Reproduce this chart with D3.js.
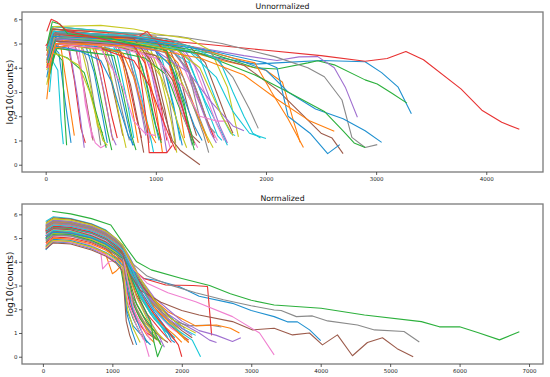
<!DOCTYPE html>
<html>
<head>
<meta charset="utf-8">
<script src="https://cdn.jsdelivr.net/npm/d3@7"></script>
<style>
  body { margin: 0; background: #fff; }
  svg { display: block; font-family: "DejaVu Sans", sans-serif; }
</style>
</head>
<body>
<script>
'use strict';

const W = 550, H = 377;
const colors = ['#1f90d0', '#ff7f0e', '#2cb03c', '#e83232', '#a070d0',
                '#9c5b4b', '#f080d0', '#8a8a8a', '#c8c822', '#17c8d8'];

// each line: flat x,y pairs (x = position, y = log10(counts))
const unnormDense = [
  [10,3.6, 60,4.9, 120,4.6, 180,2.5, 230,0.9],
  [15,4.0, 70,5.1, 140,4.8, 200,3.0, 260,1.2],
  [20,3.4, 80,4.7, 150,4.3, 170,2.2, 190,0.8],
  [10,4.2, 70,5.3, 200,5.0, 260,3.5, 320,1.5, 360,0.9],
  [25,3.8, 90,4.9, 220,4.7, 290,2.8, 350,0.7],
  [15,4.4, 60,5.4, 250,5.2, 320,3.9, 400,1.8, 430,1.0],
  [30,3.9, 90,5.0, 280,4.8, 350,3.0, 420,1.1],
  [20,4.6, 70,5.5, 300,5.3, 380,4.2, 460,2.0, 500,0.8],
  [10,4.1, 60,5.2, 320,4.9, 400,3.4, 470,1.6, 520,1.3],
  [35,3.0, 60,4.3, 110,3.9, 140,1.8, 160,0.85],
  [20,4.3, 80,5.3, 350,5.1, 440,3.8, 520,1.9, 560,0.9],
  [15,4.8, 60,5.6, 380,5.4, 470,4.3, 560,2.2, 610,1.0],
  [25,4.0, 90,5.1, 400,4.8, 480,3.2, 560,1.4, 600,0.6],
  [10,4.5, 60,5.4, 420,5.2, 510,4.0, 600,2.0, 650,1.1],
  [30,3.7, 100,4.9, 450,4.6, 530,3.0, 600,1.2, 640,0.8],
  [20,4.7, 70,5.5, 470,5.3, 560,4.2, 650,2.3, 700,1.2],
  [15,4.2, 80,5.2, 300,4.9, 360,2.5, 400,1.6, 450,0.9, 500,0.7, 540,0.8],
  [25,4.4, 70,5.4, 520,5.1, 610,4.0, 700,2.1, 760,1.0],
  [10,3.9, 90,5.0, 540,4.7, 620,3.1, 700,1.3, 730,0.7],
  [20,4.9, 60,5.7, 560,5.5, 650,4.5, 740,2.6, 800,1.1],
  [30,4.1, 90,5.1, 580,4.8, 660,3.4, 750,1.6, 790,0.8],
  [15,4.6, 70,5.5, 600,5.2, 700,4.2, 790,2.2, 840,0.9],
  [25,3.6, 100,4.8, 620,4.5, 700,3.0, 780,1.2, 820,0.6],
  [10,4.3, 60,5.3, 640,5.1, 730,3.9, 820,2.0, 870,1.1],
  [20,4.7, 80,5.5, 660,5.3, 760,4.4, 850,2.6, 910,1.2],
  [35,4.0, 100,5.0, 680,4.7, 770,3.3, 850,1.5, 890,0.5],
  [15,4.5, 70,5.4, 700,5.2, 800,4.1, 890,2.2, 950,1.0],
  [25,4.2, 90,5.2, 720,4.9, 810,3.6, 900,1.7, 940,0.9],
  [10,4.8, 60,5.6, 740,5.4, 840,4.4, 940,2.5, 1000,1.1],
  [30,3.9, 100,5.0, 760,4.7, 850,3.2, 940,1.4, 980,0.5],
  [20,4.4, 70,5.3, 780,5.1, 880,4.0, 970,2.1, 1030,1.0],
  [15,4.6, 80,5.5, 800,5.3, 900,4.3, 1000,2.4, 1060,0.5],
  [25,4.1, 90,5.1, 820,4.8, 910,3.5, 1000,1.6, 1050,0.9],
  [10,4.7, 60,5.5, 840,5.3, 940,4.4, 1040,2.6, 1100,1.0],
  [20,4.3, 80,5.2, 860,5.0, 960,3.8, 1050,1.9, 1100,0.5],
  [30,4.5, 90,5.4, 880,5.1, 980,4.2, 1080,2.3, 1140,0.9],
  [15,4.0, 70,5.1, 900,4.8, 990,3.4, 1080,1.5, 1130,0.7],
  [25,4.8, 60,5.6, 920,5.4, 1020,4.5, 1120,2.7, 1180,0.9],
  [10,4.2, 90,5.2, 940,4.9, 1040,3.7, 1140,1.8, 1190,0.5],
  [20,4.6, 70,5.4, 960,5.2, 1060,4.3, 1160,2.5, 1220,1.0],
  [35,4.3, 100,5.2, 980,4.9, 1080,3.9, 1180,2.0, 1240,0.8],
  [15,4.9, 60,5.7, 1000,5.3, 1100,4.5, 1200,2.8, 1260,1.1],
  [10,4.7, 70,5.5, 1050,5.1, 1160,4.2, 1260,2.5, 1320,1.0],
  [25,4.4, 80,5.3, 820,5.0, 880,3.0, 920,1.6, 940,0.5, 1100,0.5, 1150,0.8],
  [20,4.1, 90,5.1, 1080,4.8, 1180,3.6, 1280,1.7, 1330,0.8],
  [30,4.5, 70,5.4, 1100,5.0, 1200,4.0, 1300,2.2, 1370,1.2],
  [20,4.5, 80,5.4, 600,5.3, 1000,5.0, 1200,4.6, 1350,3.0, 1500,1.5, 1560,1.0],
  [25,4.3, 80,5.2, 1200,4.9, 1300,3.8, 1400,1.9, 1460,1.2],
  [15,4.2, 70,5.2, 500,5.0, 900,4.7, 1150,4.2, 1300,2.8, 1450,1.3, 1520,0.7],
  [30,4.4, 90,5.3, 700,5.1, 1100,4.8, 1300,4.2, 1450,2.6, 1600,1.3, 1650,0.8],
  [20,4.3, 80,5.2, 600,5.0, 1000,4.7, 1150,4.0, 1250,2.8, 1350,1.6, 1420,1.0],
  [15,4.6, 70,5.4, 700,5.2, 1050,4.9, 1200,4.2, 1300,3.0, 1400,1.8, 1480,0.9],
  [25,4.0, 90,5.0, 500,4.8, 900,4.4, 1100,3.7, 1200,2.5, 1300,1.4, 1350,0.6],
  [10,4.8, 60,5.6, 700,5.4, 1100,5.1, 1250,4.5, 1350,3.3, 1450,2.0, 1530,1.1],
  [30,4.4, 90,5.3, 800,5.1, 1150,4.7, 1300,3.8, 1400,2.5, 1500,1.3, 1550,0.9],
  [20,4.1, 80,5.1, 600,4.9, 1000,4.5, 1150,3.5, 1250,2.2, 1330,1.2, 1400,0.9],
  [15,4.7, 70,5.5, 900,5.2, 1200,4.9, 1350,4.1, 1450,2.9, 1550,1.7, 1620,1.0],
  [25,4.5, 80,5.3, 800,5.0, 1100,4.6, 1250,3.6, 1350,2.3, 1430,1.3, 1480,0.5],
  [10,4.3, 70,5.2, 600,5.0, 900,4.6, 1050,3.6, 1150,2.4, 1230,1.3, 1280,0.7],
  [20,4.9, 60,5.7, 800,5.4, 1200,5.1, 1400,4.4, 1500,3.2, 1600,2.0, 1680,1.3, 1720,1.2],
  [30,3.8, 90,4.9, 300,4.7, 500,4.3, 600,3.4, 680,2.2, 750,1.2, 800,0.8],
  [15,4.2, 70,5.2, 400,5.0, 700,4.6, 800,3.6, 880,2.3, 950,1.3, 1000,0.9],
  [25,3.5, 80,4.6, 200,4.4, 350,3.8, 430,2.6, 500,1.5, 550,0.7],
  [10,4.0, 60,5.0, 500,4.8, 800,4.3, 950,3.2, 1050,2.0, 1120,1.2, 1180,0.6],
  [20,4.5, 80,5.4, 900,5.2, 1250,4.8, 1400,3.8, 1500,2.6, 1580,1.6, 1650,0.9],
  [30,4.6, 90,5.4, 1000,5.2, 1300,4.9, 1450,4.2, 1550,3.0, 1650,1.8, 1700,1.3],
  [15,4.2, 70,5.1, 700,4.9, 1000,4.4, 1150,3.3, 1250,2.0, 1320,1.2, 1380,0.7],
  [25,4.4, 80,5.3, 900,5.1, 1150,4.7, 1300,3.9, 1400,2.7, 1480,1.6, 1540,1.3],
  [10,3.3, 60,4.6, 150,4.5, 300,4.1, 400,3.0, 470,1.8, 520,1.0, 560,0.8],
  [20,4.7, 70,5.5, 800,5.3, 1150,5.0, 1300,4.3, 1400,3.1, 1500,1.9, 1560,1.2, 1600,1.0]
];

const unnormLong = [
  [20,4.2, 100,5.3, 600,5.1, 1100,4.8, 1600,4.4, 1900,4.15, 2100,4.2, 2500,4.3, 2900,4.25, 3050,3.8, 3200,3.2, 3320,2.1],
  [10,2.7, 60,4.8, 600,5.2, 1200,4.8, 1600,4.3, 2000,3.9, 2150,3.4, 2250,1.8, 2310,0.92],
  [30,4.6, 100,5.4, 500,5.3, 1000,5.0, 1500,4.6, 1900,4.0, 2100,3.95, 2380,4.2, 2470,4.29, 2620,4.12, 2900,3.5, 3010,3.33, 3140,2.96, 3280,2.54],
  [0,4.9, 100,5.5, 500,5.35, 1000,5.15, 1500,4.95, 2000,4.72, 2500,4.5, 2900,4.27, 3100,4.38, 3270,4.67, 3430,4.33, 3770,3.13, 3960,2.25, 4140,1.75, 4300,1.46],
  [20,4.4, 100,5.2, 700,5.2, 1300,4.9, 1800,4.5, 2100,4.3, 2300,4.45, 2470,4.46, 2620,4.0, 2720,3.2, 2830,1.96],
  [20,4.4, 80,5.1, 900,4.9, 1400,4.6, 1800,4.1, 2100,3.1, 2300,2.2, 2500,1.3, 2600,1.1, 2700,0.46],
  [25,4.0, 90,5.0, 600,4.9, 1000,4.4, 1250,3.2, 1400,2.0, 1550,1.8, 1650,1.8],
  [30,4.3, 100,5.3, 600,5.4, 1000,5.35, 1200,5.3, 1600,5.0, 2080,4.46, 2380,4.0, 2530,3.63, 2690,2.67, 2780,1.13, 2900,0.71, 3010,0.83],
  [15,4.7, 70,5.7, 500,5.75, 800,5.6, 1000,5.4, 1300,5.2, 1500,4.7, 1650,3.2, 1750,1.15],
  [25,4.3, 90,5.2, 900,5.0, 1300,4.7, 1550,3.6, 1700,2.2, 1850,1.3, 2000,1.08],
  [20,4.5, 70,5.4, 700,5.3, 1300,4.9, 1700,4.4, 2000,3.9, 2200,3.0, 2450,2.3, 2700,1.9, 2900,1.4, 3050,0.92],
  [20,4.1, 80,5.3, 700,5.2, 1300,4.9, 1700,4.4, 1900,4.2, 2050,3.0, 2200,1.9, 2340,0.71],
  [25,4.2, 90,5.2, 800,5.0, 1400,4.6, 1900,3.7, 2200,3.0, 2530,2.2, 2700,1.4, 2800,0.9, 2900,0.71],
  [20,4.5, 80,5.4, 500,5.2, 850,5.3, 920,5.5, 1000,5.1, 1100,4.6, 1200,3.0, 1300,1.4, 1350,0.9],
  [25,4.4, 80,5.2, 600,5.0, 1000,4.7, 1300,3.8, 1500,2.6, 1700,1.6, 1800,1.4],
  [15,4.8, 60,5.6, 800,5.2, 950,4.3, 1050,2.5, 1150,1.0, 1220,0.6, 1400,0.0],
  [30,4.1, 90,5.0, 500,4.8, 700,3.2, 800,1.8, 900,1.3, 1000,1.2],
  [20,4.6, 80,5.4, 800,5.3, 1100,5.2, 1500,4.6, 1700,3.6, 1850,2.3, 1930,1.5],
  [20,4.5, 80,5.3, 700,5.1, 1200,4.7, 1400,4.0, 1500,3.0, 1600,2.0, 1700,1.2],
  [15,4.8, 70,5.5, 800,5.3, 1300,4.9, 1580,4.3, 1700,3.0, 1800,2.0, 1880,1.3, 1950,1.1],
  [15,4.3, 70,5.3, 900,5.1, 1500,4.7, 2000,4.2, 2100,4.0, 2200,2.0, 2400,1.3, 2560,0.46, 2670,0.83],
  [30,4.0, 90,5.0, 800,4.9, 1400,4.4, 1800,3.7, 2100,2.7, 2400,1.8, 2620,1.38],
  [15,5.0, 60,5.9, 130,5.8, 200,5.4, 600,5.2, 1100,4.7, 1250,2.5, 1350,0.8],
  [10,5.5, 50,6.0, 100,5.9, 200,5.5, 400,5.3, 800,4.9, 900,4.2, 1000,2.0, 1050,1.0]
];

const normDense = [
  [40,4.5, 150,4.85, 400,4.8, 700,4.55, 900,4.3, 1050,4.0, 1150,3.7, 1200,2.0, 1300,1.3, 1450,0.8, 1550,0.5],
  [45,4.6, 150,4.9, 400,4.85, 700,4.6, 900,4.35, 1000,3.5, 1050,3.6, 1150,3.9, 1220,2.6, 1350,1.6, 1500,0.9, 1600,0.6],
  [45,4.85, 150,5.15, 400,5.1, 700,4.9, 900,4.6, 1000,4.3, 1100,4.1, 1200,2.4, 1300,1.6, 1400,1.0, 1500,0.6],
  [40,4.8, 150,5.05, 400,5.0, 700,4.8, 900,4.55, 1050,4.3, 1150,4.0, 1250,2.2, 1350,1.5, 1500,1.0, 1650,0.7],
  [50,4.9, 150,5.1, 400,5.1, 700,4.85, 900,4.6, 1050,4.35, 1150,4.1, 1230,3.0, 1300,2.2, 1450,1.4, 1600,0.9, 1700,0.6],
  [40,5.0, 150,5.2, 400,5.15, 700,4.95, 900,4.7, 1050,4.4, 1150,4.2, 1250,3.2, 1350,2.2, 1500,1.4, 1700,0.8, 1800,0.6],
  [40,4.7, 150,5.0, 400,4.95, 700,4.7, 830,4.5, 860,3.7, 950,4.0, 1100,4.1, 1200,3.0, 1300,2.0, 1450,1.2, 1550,0.7],
  [40,5.1, 150,5.3, 400,5.25, 700,5.05, 900,4.8, 1050,4.5, 1150,4.2, 1250,3.4, 1400,2.5, 1600,1.6, 1800,1.0, 1900,0.7],
  [50,5.15, 150,5.35, 400,5.3, 700,5.1, 900,4.85, 1050,4.5, 1150,4.3, 1200,3.7, 1300,2.3, 1450,1.5, 1600,1.0, 1700,0.5],
  [40,5.2, 150,5.4, 400,5.35, 700,5.15, 900,4.9, 1050,4.6, 1150,4.35, 1250,3.6, 1350,2.8, 1550,1.9, 1750,1.2, 1900,0.8],
  [45,5.0, 150,5.25, 400,5.2, 700,5.0, 900,4.75, 1050,4.45, 1150,4.25, 1220,2.8, 1300,1.9, 1400,1.2, 1500,0.6],
  [40,5.25, 150,5.45, 400,5.4, 700,5.2, 900,4.95, 1050,4.65, 1150,4.4, 1250,3.8, 1350,3.0, 1500,2.2, 1700,1.4, 1900,0.9, 2000,0.6],
  [50,5.3, 150,5.5, 400,5.45, 700,5.25, 900,5.0, 1050,4.7, 1150,4.45, 1230,3.3, 1300,2.5, 1450,1.7, 1600,1.1, 1700,0.5],
  [40,5.35, 150,5.55, 400,5.5, 700,5.3, 900,5.05, 1050,4.75, 1150,4.5, 1250,3.9, 1400,3.0, 1600,2.1, 1800,1.4, 2000,0.9, 2100,0.7],
  [45,5.4, 150,5.6, 400,5.55, 700,5.35, 900,5.1, 1050,4.8, 1150,4.5, 1250,3.5, 1350,2.5, 1500,1.7, 1650,1.0, 1750,0.4],
  [40,5.45, 150,5.65, 400,5.6, 700,5.4, 900,5.15, 1050,4.85, 1150,4.55, 1250,4.0, 1400,3.2, 1600,2.3, 1800,1.6, 2000,1.1, 2150,0.8],
  [50,5.5, 150,5.7, 400,5.65, 700,5.45, 900,5.2, 1000,4.95, 1100,4.7, 1200,4.1, 1300,3.4, 1450,2.6, 1650,1.8, 1850,1.2, 2000,0.9],
  [40,5.55, 150,5.75, 400,5.7, 700,5.5, 900,5.25, 1000,5.0, 1100,4.75, 1200,4.2, 1350,3.3, 1550,2.4, 1750,1.7, 1950,1.1, 2100,0.6],
  [45,5.6, 150,5.8, 400,5.75, 700,5.55, 900,5.3, 1000,5.05, 1100,4.8, 1200,4.3, 1300,3.6, 1500,2.7, 1700,1.9, 1900,1.3, 2050,0.7],
  [40,5.7, 150,5.9, 400,5.82, 700,5.6, 900,5.35, 1000,5.1, 1100,4.85, 1200,4.35, 1350,3.5, 1550,2.6, 1800,1.8, 2000,1.2, 2200,0.9],
  [40,4.65, 150,4.95, 400,4.9, 700,4.65, 900,4.4, 1050,4.15, 1150,3.85, 1210,1.8, 1280,1.1, 1350,0.5],
  [50,4.75, 150,5.0, 400,4.95, 700,4.75, 900,4.5, 1050,4.2, 1150,3.95, 1250,2.8, 1350,1.9, 1500,1.1, 1650,0.7],
  [40,4.95, 150,5.2, 400,5.15, 700,4.9, 900,4.65, 1050,4.35, 1150,4.15, 1260,2.5, 1400,1.6, 1550,1.0, 1650,0.7],
  [45,5.05, 150,5.3, 400,5.2, 700,5.0, 900,4.75, 1050,4.45, 1150,4.2, 1240,3.4, 1350,2.6, 1500,1.8, 1700,1.1, 1850,0.6],
  [40,5.4, 150,5.6, 400,5.55, 700,5.35, 900,5.1, 1050,4.8, 1150,4.55, 1250,4.0, 1400,3.1, 1600,2.3, 1800,1.8, 2000,1.4, 2250,1.0, 2400,0.7, 2500,0.6],
  [40,4.55, 150,4.8, 400,4.75, 700,4.5, 900,4.25, 1050,3.95, 1150,3.6, 1200,1.5, 1250,0.9, 1300,0.5],
  [45,4.6, 150,4.88, 400,4.82, 700,4.58, 900,4.3, 1050,4.05, 1150,3.8, 1230,2.2, 1350,1.3, 1450,0.7],
  [40,4.9, 150,5.12, 400,5.08, 700,4.85, 900,4.6, 1050,4.3, 1150,4.05, 1240,2.9, 1350,2.0, 1500,1.2, 1600,0.8],
  [50,5.0, 150,5.22, 400,5.18, 700,4.95, 900,4.7, 1050,4.4, 1150,4.2, 1250,3.3, 1350,2.5, 1500,1.6, 1650,1.0, 1750,0.7],
  [40,5.1, 150,5.32, 400,5.28, 700,5.05, 900,4.8, 1050,4.5, 1150,4.3, 1250,3.6, 1400,2.6, 1550,1.8, 1750,1.1, 1850,0.9],
  [45,5.25, 150,5.48, 400,5.42, 700,5.2, 900,4.95, 1050,4.65, 1150,4.4, 1250,3.8, 1400,2.8, 1600,1.9, 1750,1.3, 1850,0.7, 1900,0.6],
  [40,5.38, 150,5.58, 400,5.52, 700,5.32, 900,5.08, 1050,4.78, 1150,4.52, 1250,3.9, 1400,3.0, 1600,2.1, 1800,1.5, 1950,1.0, 2100,0.6],
  [50,5.2, 150,5.42, 400,5.38, 700,5.18, 900,4.92, 1050,4.6, 1150,4.35, 1250,3.5, 1400,2.4, 1550,1.5, 1600,0.6, 1650,0.0, 1720,0.5],
  [40,5.3, 150,5.5, 400,5.45, 700,5.25, 900,5.0, 1050,4.7, 1150,4.45, 1250,3.7, 1400,2.7, 1600,1.8, 1800,1.1, 1950,0.5, 2000,0.0],
  [50,5.48, 150,5.68, 400,5.62, 700,5.42, 900,5.18, 1050,4.88, 1150,4.6, 1250,4.0, 1400,3.1, 1600,2.2, 1800,1.6, 2000,1.2, 2150,0.9],
  [45,5.65, 150,5.85, 400,5.8, 700,5.58, 900,5.32, 1000,5.1, 1100,4.8, 1200,4.3, 1300,3.6, 1450,2.9, 1650,2.2, 1850,1.6, 2050,1.2],
  [40,5.15, 150,5.4, 400,5.35, 700,5.15, 900,4.9, 1050,4.55, 1150,4.3, 1220,3.2, 1300,2.1, 1400,1.3, 1530,0.0],
  [50,5.45, 150,5.65, 400,5.6, 700,5.4, 900,5.15, 1050,4.85, 1150,4.6, 1250,4.0, 1350,3.2, 1500,2.5, 1700,1.9, 1900,1.5, 2100,1.3, 2400,1.34, 2570,1.25],
  [40,4.62, 150,4.9, 400,4.86, 700,4.62, 900,4.38, 1050,4.1, 1150,3.75, 1220,2.0, 1300,1.2, 1400,0.6],
  [45,5.28, 150,5.5, 400,5.44, 700,5.22, 900,4.98, 1050,4.68, 1150,4.42, 1250,3.7, 1400,2.7, 1550,1.9, 1700,1.3, 1800,0.8]
];

const normLong = [
  [40,5.0, 150,5.25, 400,5.2, 700,5.0, 900,4.75, 1050,4.45, 1150,4.2, 1300,3.6, 1450,3.3, 1630,3.22, 1960,2.96, 2250,2.55, 2730,2.25, 3000,1.95, 3330,1.69, 3520,1.47, 3665,1.47, 3840,1.13, 4000,0.68],
  [40,5.5, 150,5.7, 400,5.65, 700,5.45, 900,5.2, 1050,4.9, 1150,4.65, 1250,4.1, 1400,3.3, 1600,2.4, 1800,1.9, 2000,1.6, 2200,1.3, 2500,1.34, 2700,1.2, 2830,1.0],
  [134,6.13, 400,6.02, 700,5.82, 978,5.55, 1200,4.6, 1350,4.0, 1560,3.66, 2000,3.3, 2400,3.0, 2700,2.65, 3000,2.38, 3330,2.18, 4006,2.04, 4630,1.76, 5450,1.48, 5710,1.26, 6000,1.26, 6260,1.02, 6575,0.71, 6860,1.05],
  [40,5.3, 150,5.5, 400,5.45, 700,5.25, 900,5.0, 1050,4.7, 1150,4.4, 1300,3.7, 1450,3.3, 1770,3.02, 2160,3.0, 2370,2.96, 2430,0.9],
  [45,5.55, 150,5.75, 400,5.7, 700,5.5, 900,5.25, 1050,4.95, 1150,4.7, 1250,4.2, 1400,3.3, 1600,2.5, 1800,2.0, 2000,1.5, 2250,1.1, 2500,0.9, 2730,0.64, 2850,0.8],
  [45,5.2, 150,5.4, 400,5.35, 700,5.1, 900,4.85, 1050,4.55, 1150,4.3, 1250,3.5, 1400,2.8, 1700,2.3, 2000,1.95, 2250,1.76, 2730,1.48, 3020,1.13, 3330,1.2, 3594,0.92, 3838,1.0, 4025,0.5, 4241,0.92, 4457,0.04, 4673,0.6, 4889,0.8, 5101,0.34, 5332,0.0],
  [50,5.35, 150,5.55, 400,5.5, 700,5.3, 900,5.05, 1050,4.75, 1150,4.5, 1300,3.7, 1500,3.1, 1800,2.7, 2200,2.32, 2730,1.69, 3120,1.0, 3330,0.08],
  [40,5.5, 150,5.72, 400,5.66, 700,5.45, 900,5.2, 1050,4.9, 1150,4.65, 1300,3.9, 1500,3.4, 1800,3.05, 2200,2.7, 2600,2.4, 3000,2.15, 3330,1.97, 3430,1.95, 3650,1.69, 3880,1.72, 4100,1.51, 4530,1.34, 4775,1.13, 5200,1.06, 5420,0.62],
  [40,5.62, 150,5.82, 400,5.76, 700,5.55, 900,5.3, 1050,5.0, 1150,4.7, 1250,4.1, 1400,3.3, 1600,2.4, 1800,1.7, 2000,1.3, 2200,1.0],
  [45,5.35, 150,5.55, 400,5.5, 700,5.3, 900,5.05, 1050,4.75, 1150,4.5, 1250,3.9, 1400,3.0, 1600,2.0, 1800,1.4, 2000,1.0, 2150,0.7, 2270,0.0]
];

const unnormXTicks = [0, 1000, 2000, 3000, 4000];
const normXTicks = [0, 1000, 2000, 3000, 4000, 5000, 6000, 7000];
const yTicks = [0, 1, 2, 3, 4, 5, 6];
const tickFormat = d3.format('d');

function toPoints(flat) {
  const pts = [];
  for (let i = 0; i < flat.length; i += 2) pts.push([flat[i], flat[i + 1]]);
  return pts;
}

// matplotlib style 5% margins
function padded(ext) {
  const p = (ext[1] - ext[0]) * 0.05;
  return [ext[0] - p, ext[1] + p];
}

const svg = d3.select('body').append('svg')
    .attr('width', W)
    .attr('height', H);

function drawPanel(lines, xTicks, title, box) {
  const series = lines.map(toPoints);
  const all = series.flat();

  const x = d3.scaleLinear()
      .domain(padded(d3.extent(all, d => d[0])))
      .range([box.left, box.right]);
  const y = d3.scaleLinear()
      .domain(padded(d3.extent(all, d => d[1])))
      .range([box.bottom, box.top]);

  const line = d3.line()
      .x(d => x(d[0]))
      .y(d => y(d[1]));

  const g = svg.append('g');

  g.selectAll('path.series')
    .data(series)
    .join('path')
      .attr('class', 'series')
      .attr('d', line)
      .attr('fill', 'none')
      .attr('stroke', (d, i) => colors[i % colors.length])
      .attr('stroke-width', 1.1)
      .attr('stroke-linejoin', 'round');

  g.append('rect')
      .attr('x', box.left)
      .attr('y', box.top)
      .attr('width', box.right - box.left)
      .attr('height', box.bottom - box.top)
      .attr('fill', 'none')
      .attr('stroke', '#7a7a7a')
      .attr('stroke-width', 1.3);

  const xAxis = g.append('g')
      .attr('transform', 'translate(0,' + box.bottom + ')')
      .call(d3.axisBottom(x).tickValues(xTicks).tickFormat(tickFormat)
        .tickSize(3).tickSizeOuter(0));
  const yAxis = g.append('g')
      .attr('transform', 'translate(' + box.left + ',0)')
      .call(d3.axisLeft(y).tickValues(yTicks).tickFormat(tickFormat)
        .tickSize(3).tickSizeOuter(0));

  [xAxis, yAxis].forEach(a => {
    a.select('.domain').remove();
    a.selectAll('line').attr('stroke', '#333').attr('stroke-width', 0.8);
    a.selectAll('text')
        .attr('fill', '#222')
        .style('font-size', '5.5px')
        .style('font-family', '"DejaVu Sans", sans-serif');
  });
  xAxis.selectAll('text').attr('dy', '0.9em').attr('y', 4);
  yAxis.selectAll('text').attr('x', -4.5);

  g.append('text')
      .attr('x', (box.left + box.right) / 2)
      .attr('y', box.top - 3)
      .attr('text-anchor', 'middle')
      .style('font-size', '7.8px')
      .attr('fill', '#111')
      .text(title);

  g.append('text')
      .attr('transform', 'translate(13,' + ((box.top + box.bottom) / 2) + ') rotate(-90)')
      .attr('text-anchor', 'middle')
      .style('font-size', '9.4px')
      .attr('fill', '#111')
      .text('log10(counts)');
}

drawPanel(unnormDense.concat(unnormLong), unnormXTicks, 'Unnormalized',
    {left: 22, right: 543, top: 12, bottom: 172});
drawPanel(normDense.concat(normLong), normXTicks, 'Normalized',
    {left: 22, right: 543, top: 204, bottom: 364});
</script>
</body>
</html>
